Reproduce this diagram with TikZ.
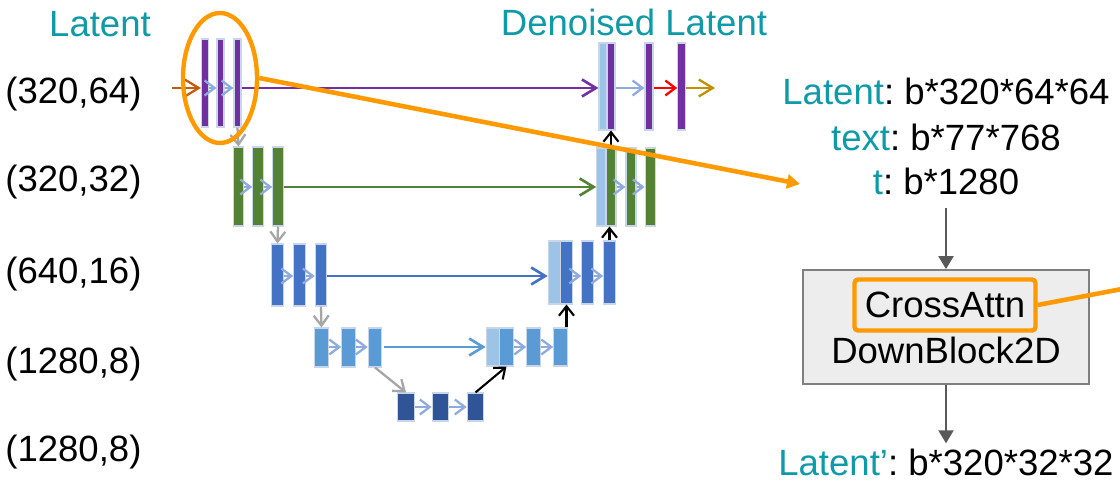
\documentclass[tikz,border=0pt]{standalone}
\usepackage{fontspec}
\setmainfont{Liberation Sans}
\frenchspacing
\usetikzlibrary{arrows.meta,shapes.geometric}
\newlength{\pxu}
\setlength{\pxu}{0.02cm}
\definecolor{unTeal}{HTML}{0F9AA8}
\definecolor{unPurple}{HTML}{7030A0}
\definecolor{unGreen}{HTML}{548235}
\definecolor{unBlue}{HTML}{4472C4}
\definecolor{unLBlue}{HTML}{5B9BD5}
\definecolor{unDBlue}{HTML}{2F5597}
\definecolor{unCat}{HTML}{9DC3E6}
\definecolor{unStep}{HTML}{8FAADC}
\definecolor{unEdge}{HTML}{C9D6EA}
\definecolor{unInput}{HTML}{C55A11}
\definecolor{unGold}{HTML}{BF9000}
\definecolor{unOrange}{HTML}{FF9900}
\definecolor{unGrayArr}{HTML}{A6A6A6}
\definecolor{unDark}{HTML}{595959}
\definecolor{unBoxFill}{HTML}{EDEDED}
\definecolor{unBoxLine}{HTML}{7F7F7F}
\tikzset{
  barNode/.style 2 args={draw=unEdge, line width=0.6pt, inner sep=0pt, minimum width=#1\pxu, minimum height=#2\pxu},
  stepArrow/.style={-{Straight Barb[length=2mm,width=3mm]}, line width=1.3pt, draw=unStep},
  skipArrow/.style={-{Straight Barb[length=2.8mm,width=3.4mm]}, line width=1.5pt},
  downArrow/.style={-{Straight Barb[length=2mm,width=3mm]}, line width=1.3pt, draw=unGrayArr},
  upArrow/.style={-{Straight Barb[length=1.9mm,width=3mm]}, line width=1.2pt, draw=black},
  flowArrow/.style={-{Triangle[length=2.6mm,width=3mm]}, line width=1.3pt, draw=unDark},
  callout/.style={draw=unOrange, line width=2.6pt},
  dimLabel/.style={anchor=base west, inner sep=0pt},
  textLine/.style={anchor=base}
}

\begin{document}
\begin{tikzpicture}[x=0.02cm,y=-0.02cm,font=\fontsize{20.8}{25}\selectfont]
  \useasboundingbox (0,0) rectangle (1120,482);
  \coordinate (r1) at (0,88);
  \coordinate (r2) at (0,187);
  \coordinate (r3) at (0,276);
  \coordinate (r4) at (0,347);
  \coordinate (r5) at (0,407);

  \node[textLine, text=unTeal] (latIn) at (100,37) {Latent};
  \node[textLine, text=unTeal] (latDen) at (634,36) {Denoised Latent};
  \node[dimLabel] (s1) at (5,103.5) {(320,64)};
  \node[dimLabel] (s2) at (5,192) {(320,32)};
  \node[dimLabel] (s3) at (5,283.5) {(640,16)};
  \node[dimLabel] (s4) at (5,373.5) {(1280,8)};
  \node[dimLabel] (s5) at (5,462) {(1280,8)};

  \node[barNode={7}{88}, fill=unPurple] (d1a) at (205,83) {};
  \node[barNode={7}{88}, fill=unPurple] (d1b) at (220.5,83) {};
  \node[barNode={7}{88}, fill=unPurple] (d1c) at (237.5,83) {};
  \node[barNode={10.5}{79}, fill=unGreen] (d2a) at (238.5,186.5) {};
  \node[barNode={10.5}{79}, fill=unGreen] (d2b) at (258,186.5) {};
  \node[barNode={10.5}{79}, fill=unGreen] (d2c) at (278,186.5) {};
  \node[barNode={11.5}{62}, fill=unBlue] (d3a) at (277.5,275) {};
  \node[barNode={11.5}{62}, fill=unBlue] (d3b) at (299.5,275) {};
  \node[barNode={11.5}{62}, fill=unBlue] (d3c) at (321,275) {};
  \node[barNode={13.5}{39}, fill=unLBlue] (d4a) at (321.5,347.5) {};
  \node[barNode={13.5}{39}, fill=unLBlue] (d4b) at (348.5,347.5) {};
  \node[barNode={13.5}{39}, fill=unLBlue] (d4c) at (375,347.5) {};
  \node[barNode={16.5}{28}, fill=unDBlue] (m1) at (406,407) {};
  \node[barNode={16.5}{28}, fill=unDBlue] (m2) at (440.5,407) {};
  \node[barNode={16.5}{28}, fill=unDBlue] (m3) at (475.5,407) {};
  \node[barNode={13.5}{38}, fill=unCat] (u4a) at (493,347) {};
  \node[barNode={13.5}{38}, fill=unLBlue] (u4b) at (506.5,347) {};
  \node[barNode={13.5}{38}, fill=unLBlue] (u4c) at (533.5,347) {};
  \node[barNode={13.5}{38}, fill=unLBlue] (u4d) at (560.5,347) {};
  \node[barNode={12.5}{63}, fill=unCat] (u3a) at (554.5,272.5) {};
  \node[barNode={11.5}{63}, fill=unBlue] (u3b) at (566.5,272.5) {};
  \node[barNode={11.5}{63}, fill=unBlue] (u3c) at (587.5,272.5) {};
  \node[barNode={11.5}{63}, fill=unBlue] (u3d) at (609.5,272.5) {};
  \node[barNode={9.5}{78}, fill=unCat] (u2a) at (601.5,187) {};
  \node[barNode={10}{78}, fill=unGreen] (u2b) at (611,187) {};
  \node[barNode={10}{78}, fill=unGreen] (u2c) at (631,187) {};
  \node[barNode={10.5}{78}, fill=unGreen] (u2d) at (650.5,187) {};
  \node[barNode={8}{87}, fill=unCat] (u1a) at (603,86.5) {};
  \node[barNode={8}{87}, fill=unPurple] (u1b) at (611,86.5) {};
  \node[barNode={8}{87}, fill=unPurple] (u1c) at (649,86.5) {};
  \node[barNode={7.5}{87}, fill=unPurple] (u1d) at (681.5,86.5) {};
  \coordinate (inLat) at (172,88);
  \coordinate (outLat) at (715,88);

  \draw[skipArrow, draw=unInput, line width=1.3pt] (inLat) -- (d1a.west |- r1);
  \draw[stepArrow] (d1a.east |- r1) -- (d1b.west |- r1);
  \draw[stepArrow] (d1b.east |- r1) -- (d1c.west |- r1);
  \draw[stepArrow] (d2a.east |- r2) -- (d2b.west |- r2);
  \draw[stepArrow] (d2b.east |- r2) -- (d2c.west |- r2);
  \draw[stepArrow] (d3a.east |- r3) -- (d3b.west |- r3);
  \draw[stepArrow] (d3b.east |- r3) -- (d3c.west |- r3);
  \draw[stepArrow] (d4a.east |- r4) -- (d4b.west |- r4);
  \draw[stepArrow] (d4b.east |- r4) -- (d4c.west |- r4);
  \draw[stepArrow] (m1.east |- r5) -- (m2.west |- r5);
  \draw[stepArrow] (m2.east |- r5) -- (m3.west |- r5);
  \draw[stepArrow] (u4b.east |- r4) -- (u4c.west |- r4);
  \draw[stepArrow] (u4c.east |- r4) -- (u4d.west |- r4);
  \draw[stepArrow] (u3b.east |- r3) -- (u3c.west |- r3);
  \draw[stepArrow] (u3c.east |- r3) -- (u3d.west |- r3);
  \draw[stepArrow] (u2b.east |- r2) -- (u2c.west |- r2);
  \draw[stepArrow] (u2c.east |- r2) -- (u2d.west |- r2);
  \draw[stepArrow] (u1b.east |- r1) -- (u1c.west |- r1);
  \draw[stepArrow, draw=red] (u1c.east |- r1) -- (u1d.west |- r1);
  \draw[skipArrow, draw=unGold, line width=1.3pt] (u1d.east |- r1) -- (outLat);

  \draw[skipArrow, draw=unPurple] (d1c.east |- r1) -- (u1a.west |- r1);
  \draw[skipArrow, draw=unGreen] (d2c.east |- r2) -- (u2a.west |- r2);
  \draw[skipArrow, draw=unBlue] (d3c.east |- r3) -- (u3a.west |- r3);
  \draw[skipArrow, draw=unLBlue] ([xshift=2\pxu]d4c.east |- r4) -- (u4a.west |- r4);

  \draw[downArrow] (d1c.south) -- (d2a.north);
  \draw[downArrow] (d2c.south) -- (d3a.north);
  \draw[downArrow] (d3c.south) -- (d4a.north);
  \draw[downArrow] (d4c.south) -- (m1.north);
  \draw[upArrow] (m3.north) -- (u4b.south);
  \draw[upArrow] (u3b.south |- u4d.north) -- (u3b.south);
  \draw[upArrow] (u3d.north) -- (u3d.north |- u2b.south);
  \draw[upArrow] (u2b.north) -- (u1b.south);

  \node[textLine] (latDim) at (946,105) {\textcolor{unTeal}{Latent}: b*320*64*64};
  \node[textLine] (txtDim) at (946,150.7) {\textcolor{unTeal}{text}: b*77*768};
  \node[textLine] (tDim) at (946,195) {\textcolor{unTeal}{t}: b*1280};
  \node[draw=unBoxLine, fill=unBoxFill, line width=1pt, minimum width=286\pxu, minimum height=114\pxu] (blk) at (946,327) {};
  \node[draw=unOrange, line width=2.5pt, rounded corners=2pt, inner sep=0pt, minimum width=181\pxu, minimum height=51\pxu] (xattn) at (945,305) {CrossAttn};
  \node[textLine] (dbName) at (946,364) {DownBlock2D};
  \node[textLine] (latOut) at (946,476) {\textcolor{unTeal}{Latent'}: b*320*32*32};
  \draw[flowArrow, shorten <=6\pxu] (tDim.south) -- (blk.north);
  \draw[flowArrow] (blk.south) -- (latOut.north);

  \node[ellipse, draw=unOrange, line width=2.5pt, minimum width=74\pxu, minimum height=130\pxu] (zoomRing) at (220,78) {};
  \coordinate (callIn) at (800,184);
  \coordinate (offEdge) at (1122,289);
  \draw[callout, -{Triangle[length=2.6mm,width=2.8mm]}] (zoomRing.east) -- (callIn);
  \draw[callout] (xattn.east) -- (offEdge);
\end{tikzpicture}
\end{document}
